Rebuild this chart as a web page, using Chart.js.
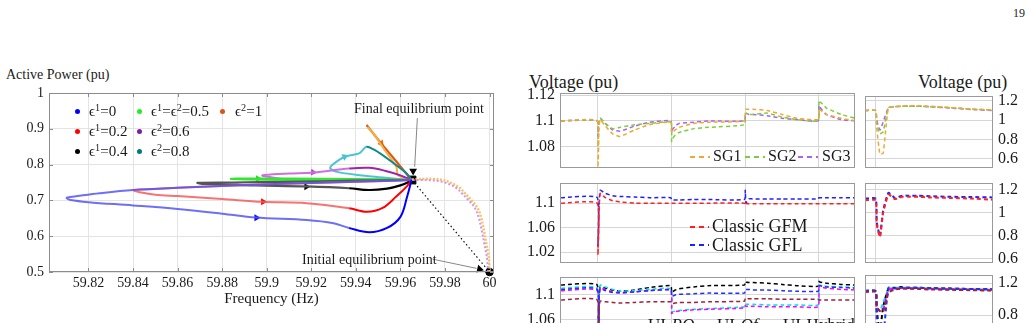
<!DOCTYPE html>
<html><head><meta charset="utf-8">
<script src="https://cdn.jsdelivr.net/npm/chart.js@4.4.1/dist/chart.umd.min.js"></script>
<style>
html,body{margin:0;padding:0;background:#fff;width:1034px;height:323px;overflow:hidden;position:relative;
 font-family:"Liberation Serif","Times New Roman","DejaVu Serif",serif;color:#1a1a1a;}
canvas{position:absolute;}
.t{position:absolute;white-space:nowrap;line-height:1;}
.t sup{font-size:0.68em;vertical-align:0.5em;line-height:0;}
.dot{position:absolute;width:5px;height:5px;border-radius:50%;}
.ds{position:absolute;height:1.6px;}
</style></head><body>

<div class="t" style="left:1013px;top:7px;font-size:12px;color:#222">19</div>
<div class="t" style="left:6px;top:68px;font-size:14px">Active Power (pu)</div>
<div class="t" style="left:529px;top:73px;font-size:18px">Voltage (pu)</div>
<div class="t" style="left:918px;top:73px;font-size:18px">Voltage (pu)</div>

<canvas id="pf" width="510" height="263" style="left:0;top:60px"></canvas>
<canvas id="r1a" width="340" height="120" style="left:520px;top:70px"></canvas>
<canvas id="r1b" width="174" height="117" style="left:860px;top:73px"></canvas>
<canvas id="r2a" width="340" height="125" style="left:520px;top:160px"></canvas>
<canvas id="r2b" width="174" height="125" style="left:860px;top:160px"></canvas>
<canvas id="r3a" width="340" height="125" style="left:520px;top:254px"></canvas>
<canvas id="r3b" width="174" height="127" style="left:860px;top:252px"></canvas>

<!-- left chart legend -->
<div class="dot" style="left:75px;top:109px;background:#0000ff"></div>
<div class="t" style="left:89px;top:104px;font-size:15px">ϵ<sup>1</sup>=0</div>
<div class="dot" style="left:75px;top:129px;background:#ff0000"></div>
<div class="t" style="left:89px;top:124px;font-size:15px">ϵ<sup>1</sup>=0.2</div>
<div class="dot" style="left:75px;top:149px;background:#000"></div>
<div class="t" style="left:89px;top:144px;font-size:15px">ϵ<sup>1</sup>=0.4</div>
<div class="dot" style="left:137px;top:109px;background:#22ee22"></div>
<div class="t" style="left:151px;top:104px;font-size:15px">ϵ<sup>1</sup>=ϵ<sup>2</sup>=0.5</div>
<div class="dot" style="left:137px;top:129px;background:#7e1e9c"></div>
<div class="t" style="left:151px;top:124px;font-size:15px">ϵ<sup>2</sup>=0.6</div>
<div class="dot" style="left:137px;top:149px;background:#007b7b"></div>
<div class="t" style="left:151px;top:144px;font-size:15px">ϵ<sup>2</sup>=0.8</div>
<div class="dot" style="left:220px;top:109px;background:#d9531a"></div>
<div class="t" style="left:235px;top:104px;font-size:15px">ϵ<sup>2</sup>=1</div>

<div class="t" style="left:354px;top:102px;font-size:14px">Final equilibrium point</div>
<div class="t" style="left:302px;top:253px;font-size:14px">Initial equilibrium point</div>

<!-- row legends -->
<div class="ds" style="left:690px;top:156px;width:20px;background:repeating-linear-gradient(90deg,#f0a830 0 5px,transparent 5px 9px)"></div>
<div class="t" style="left:713px;top:148px;font-size:16px">SG1</div>
<div class="ds" style="left:745px;top:156px;width:20px;background:repeating-linear-gradient(90deg,#7ad03a 0 5px,transparent 5px 9px)"></div>
<div class="t" style="left:768px;top:148px;font-size:16px">SG2</div>
<div class="ds" style="left:798px;top:156px;width:20px;background:repeating-linear-gradient(90deg,#b060f0 0 5px,transparent 5px 9px)"></div>
<div class="t" style="left:822px;top:148px;font-size:16px">SG3</div>

<div class="ds" style="left:690px;top:226px;width:19px;background:repeating-linear-gradient(90deg,#ff2020 0 5px,transparent 5px 9px)"></div>
<div class="t" style="left:712px;top:217px;font-size:18px">Classic GFM</div>
<div class="ds" style="left:690px;top:244px;width:19px;background:repeating-linear-gradient(90deg,#2020ff 0 5px,transparent 5px 9px)"></div>
<div class="t" style="left:712px;top:236px;font-size:18px">Classic GFL</div>

<div class="ds" style="left:627px;top:325px;width:17px;background:repeating-linear-gradient(90deg,#00e0ee 0 5px,transparent 5px 9px)"></div>
<div class="t" style="left:648px;top:316px;font-size:17px">UI-<i>PQ</i></div>
<div class="ds" style="left:697px;top:325px;width:16px;background:repeating-linear-gradient(90deg,#000 0 5px,transparent 5px 9px)"></div>
<div class="t" style="left:717px;top:316px;font-size:17px">UI-<i>Qf</i></div>
<div class="ds" style="left:764px;top:325px;width:16px;background:repeating-linear-gradient(90deg,#a0203a 0 5px,transparent 5px 9px)"></div>
<div class="t" style="left:783px;top:316px;font-size:17px">UI-Hybrid</div>

<script>
// ================= DATA =================
// Left: P-f phase portrait
const freqTicks  = [59.82, 59.84, 59.86, 59.88, 59.9, 59.92, 59.94, 59.96, 59.98, 60];
const powerTicks = [0.5, 0.6, 0.7, 0.8, 0.9, 1];

// initial rise from initial equilibrium (overlapping trajectories)
const riseF  = [60, 59.9998, 59.9993, 59.9985, 59.9975, 59.9963, 59.9945, 59.9918, 59.989, 59.9866, 59.983, 59.979, 59.975, 59.97, 59.965];
const riseP  = [0.5, 0.53, 0.555, 0.581, 0.615, 0.651, 0.68, 0.701, 0.72, 0.735, 0.748, 0.757, 0.76, 0.76, 0.758];
const rise2F = [59.9993, 59.999, 59.9984, 59.9976, 59.9965, 59.9952, 59.9933, 59.9905, 59.9876, 59.985, 59.9813, 59.9772, 59.9732, 59.969, 59.965];
const rise2P = [0.5, 0.53, 0.555, 0.581, 0.615, 0.651, 0.68, 0.701, 0.72, 0.735, 0.747, 0.754, 0.756, 0.757, 0.757];

// eps1 = 0
const e10F = [59.965, 59.94, 59.90, 59.86, 59.84, 59.825, 59.815, 59.8105, 59.8102, 59.812, 59.82, 59.84, 59.86, 59.88, 59.895, 59.918, 59.93, 59.937, 59.946, 59.954, 59.96, 59.963, 59.965];
const e10P = [0.757, 0.752, 0.745, 0.735, 0.729, 0.72, 0.712, 0.708, 0.706, 0.701, 0.695, 0.686, 0.676, 0.663, 0.652, 0.645, 0.636, 0.623, 0.611, 0.623, 0.654, 0.71, 0.757];
// eps1 = 0.2
const e12F = [59.965, 59.94, 59.90, 59.87, 59.85, 59.842, 59.8402, 59.843, 59.85, 59.86, 59.88, 59.898, 59.918, 59.937, 59.945, 59.952, 59.958, 59.963, 59.965];
const e12P = [0.757, 0.752, 0.745, 0.738, 0.732, 0.73, 0.728, 0.723, 0.716, 0.712, 0.704, 0.696, 0.692, 0.678, 0.668, 0.679, 0.71, 0.74, 0.757];
// eps1 = 0.4
const e14F = [59.965, 59.94, 59.91, 59.885, 59.869, 59.872, 59.895, 59.918, 59.937, 59.946, 59.954, 59.96, 59.964, 59.965];
const e14P = [0.757, 0.755, 0.752, 0.75, 0.749, 0.746, 0.742, 0.739, 0.734, 0.729, 0.733, 0.742, 0.752, 0.757];
// eps1 = eps2 = 0.5
const e55F = [59.965, 59.93, 59.9, 59.884, 59.886, 59.91, 59.94, 59.965];
const e55P = [0.757, 0.757, 0.758, 0.76, 0.761, 0.761, 0.76, 0.758];
// eps2 = 0.6
const e26F = [59.965, 59.94, 59.91, 59.898, 59.899, 59.91, 59.921, 59.937, 59.946, 59.953, 59.96, 59.965];
const e26P = [0.757, 0.757, 0.758, 0.769, 0.771, 0.775, 0.778, 0.789, 0.791, 0.783, 0.77, 0.757];
// eps2 = 0.8
const e28F = [59.965, 59.945, 59.932, 59.9285, 59.929, 59.935, 59.9417, 59.9447, 59.9484, 59.955, 59.9627, 59.965];
const e28P = [0.757, 0.768, 0.779, 0.789, 0.797, 0.822, 0.832, 0.85, 0.841, 0.813, 0.776, 0.757];
// eps2 = 1 (outward and return)
const e21F  = [59.965, 59.958, 59.951, 59.9448];
const e21P  = [0.757, 0.81, 0.862, 0.9106];
const e21bF = [59.9452, 59.9465, 59.9484, 59.953, 59.9582, 59.9588, 59.962, 59.965];
const e21bP = [0.905, 0.897, 0.883, 0.84, 0.794, 0.771, 0.762, 0.757];

// equilibria: final, initial
const eqF = [59.9652, 60];
const eqP = [0.757, 0.5];
// annotation leader lines
const leadFinalF = [59.9676, 59.9664];
const leadFinalP = [0.930, 0.794];
const leadInitF  = [59.9744, 59.9942];
const leadInitP  = [0.536, 0.510];
const leadHeadF  = [59.9657, 59.9955];
const leadHeadP  = [0.782, 0.508];
const leadHeadDir = [180, 103];
// direction arrows on trajectories
const arrowF   = [59.8954, 59.8984, 59.9178, 59.8961, 59.9208, 59.935, 59.9514];
const arrowP   = [0.6517, 0.6964, 0.7383, 0.7605, 0.7785, 0.822, 0.8595];
const arrowDir = [90, 90, 90, 90, 95, 66, 141];

// Right: voltage time series (time in s)
const T = [0, 4.9, 5.0, 5.1, 5.3, 6, 7, 8, 10, 12, 14.9, 15.0, 15.1, 15.5, 16, 18, 20, 24.9, 25.0, 25.1, 25.5, 26, 28, 30, 32, 34.9, 35.0, 35.1, 35.5, 36, 38, 40];
const eventT = [5, 15, 25, 35];
const SG1 = [1.1, 1.1, 1.064, 1.09, 1.101, 1.096, 1.090, 1.088, 1.093, 1.097, 1.099, 1.091, 1.091, 1.093, 1.095, 1.098, 1.099, 1.1, 1.108, 1.109, 1.109, 1.109, 1.108, 1.105, 1.102, 1.101, 1.108, 1.109, 1.107, 1.105, 1.102, 1.1];
const SG2 = [1.1, 1.1, 1.08, 1.095, 1.102, 1.098, 1.094, 1.095, 1.097, 1.098, 1.099, 1.084, 1.086, 1.089, 1.091, 1.094, 1.095, 1.097, 1.104, 1.106, 1.105, 1.105, 1.106, 1.103, 1.101, 1.1, 1.116, 1.115, 1.113, 1.110, 1.105, 1.102];
const SG3 = [1.1, 1.1, 1.088, 1.098, 1.102, 1.098, 1.093, 1.092, 1.096, 1.099, 1.1, 1.091, 1.093, 1.096, 1.098, 1.099, 1.1, 1.1, 1.106, 1.106, 1.105, 1.105, 1.104, 1.102, 1.101, 1.1, 1.112, 1.111, 1.108, 1.105, 1.101, 1.1];
const GFM = [1.1, 1.1, 1.015, 1.06, 1.116, 1.109, 1.104, 1.102, 1.1, 1.1, 1.1, 1.1, 1.1, 1.1, 1.1, 1.1, 1.1, 1.1, 1.096, 1.099, 1.099, 1.099, 1.099, 1.099, 1.099, 1.099, 1.099, 1.099, 1.099, 1.099, 1.099, 1.099];
const GFL = [1.109, 1.109, 1.03, 1.08, 1.121, 1.116, 1.112, 1.111, 1.11, 1.109, 1.109, 1.105, 1.105, 1.105, 1.105, 1.106, 1.106, 1.106, 1.121, 1.1, 1.107, 1.107, 1.107, 1.107, 1.107, 1.107, 1.109, 1.109, 1.109, 1.109, 1.109, 1.109];
const UI_PQ  = [1.111, 1.111, 1.0, 1.09, 1.116, 1.113, 1.109, 1.106, 1.107, 1.109, 1.110, 1.072, 1.073, 1.074, 1.075, 1.077, 1.078, 1.081, 1.086, 1.085, 1.085, 1.085, 1.084, 1.084, 1.084, 1.084, 1.114, 1.116, 1.115, 1.114, 1.113, 1.112];
const UI_Qf  = [1.116, 1.116, 1.0, 1.09, 1.113, 1.111, 1.108, 1.106, 1.108, 1.112, 1.115, 1.104, 1.105, 1.108, 1.110, 1.113, 1.115, 1.116, 1.122, 1.121, 1.12, 1.12, 1.119, 1.117, 1.115, 1.114, 1.122, 1.121, 1.12, 1.119, 1.117, 1.116];
const UI_Hyb = [1.092, 1.092, 1.0, 1.07, 1.09, 1.089, 1.088, 1.087, 1.088, 1.089, 1.089, 1.086, 1.086, 1.087, 1.088, 1.088, 1.089, 1.09, 1.095, 1.095, 1.094, 1.094, 1.094, 1.093, 1.093, 1.093, 1.092, 1.092, 1.092, 1.092, 1.092, 1.092];
const UI_S4  = [1.109, 1.109, 1.0, 1.08, 1.11, 1.107, 1.104, 1.104, 1.105, 1.107, 1.108, 1.097, 1.098, 1.100, 1.101, 1.102, 1.103, 1.103, 1.109, 1.109, 1.109, 1.108, 1.108, 1.107, 1.106, 1.106, 1.115, 1.115, 1.114, 1.113, 1.112, 1.111];
const UI_S5  = [1.107, 1.107, 1.0, 1.085, 1.112, 1.109, 1.105, 1.103, 1.105, 1.107, 1.108, 1.07, 1.071, 1.073, 1.074, 1.076, 1.077, 1.079, 1.083, 1.082, 1.082, 1.082, 1.081, 1.081, 1.081, 1.081, 1.111, 1.113, 1.112, 1.111, 1.109, 1.108];

// zoomed windows around first event
const T2 = [0, 1.0, 1.1, 1.4, 1.7, 2.2, 2.8, 3.5, 4, 5, 6, 8, 10, 12];
const zoomT = [1];
const zSG1 = [1.1, 1.1, 0.92, 0.65, 0.66, 1.13, 1.14, 1.145, 1.15, 1.15, 1.145, 1.13, 1.115, 1.105];
const zSG2 = [1.1, 1.1, 0.95, 0.86, 0.88, 1.13, 1.14, 1.145, 1.145, 1.145, 1.14, 1.13, 1.115, 1.105];
const zSG3 = [1.1, 1.1, 1.0, 0.90, 0.98, 1.13, 1.14, 1.145, 1.145, 1.145, 1.14, 1.125, 1.11, 1.10];
const zGFM = [1.11, 1.11, 0.9, 0.79, 1.0, 1.16, 1.12, 1.14, 1.14, 1.14, 1.135, 1.13, 1.125, 1.115];
const zGFL = [1.125, 1.125, 0.92, 0.80, 1.02, 1.175, 1.13, 1.15, 1.15, 1.15, 1.145, 1.14, 1.138, 1.135];
const zPQ  = [1.1, 1.1, 0.9, 0.85, 0.95, 1.12, 1.14, 1.14, 1.14, 1.135, 1.13, 1.125, 1.12, 1.115];
const zQf  = [1.1, 1.1, 0.85, 0.6, 0.9, 1.13, 1.14, 1.15, 1.14, 1.14, 1.135, 1.13, 1.125, 1.12];
const zHyb = [1.09, 1.09, 0.9, 0.85, 0.84, 1.08, 1.12, 1.13, 1.13, 1.125, 1.12, 1.115, 1.11, 1.105];
const zS4  = [1.1, 1.1, 0.7, 0.3, 0.5, 1.14, 1.13, 1.14, 1.14, 1.14, 1.135, 1.13, 1.125, 1.12];
const zS5  = [1.09, 1.09, 0.9, 0.85, 0.86, 1.11, 1.13, 1.13, 1.13, 1.13, 1.125, 1.12, 1.115, 1.11];

const ticksR1 = [1.08, 1.1, 1.12];
const ticksR2 = [1.02, 1.06, 1.1];
const ticksR3 = [1.02, 1.06, 1.1];
const ticksZ  = [0.6, 0.8, 1, 1.2];
const ticksZ3 = [0.4, 0.6, 0.8, 1, 1.2];

// ================= RENDER =================
const SERIF = '"Liberation Serif", "Times New Roman", serif';
Chart.defaults.font.family = SERIF;
Chart.defaults.color = '#1a1a1a';
Chart.defaults.elements.point.radius = 0;

const pts = (xs, ys) => xs.map((x, i) => ({x, y: ys[i]}));
const setTicks = arr => s => { s.ticks = arr.map(v => ({value: v})); };
const fmt = v => String(+(+v).toFixed(3));

Chart.register({
  id: 'box',
  afterDraw(chart, args, opts) {
    const {ctx, chartArea: a} = chart;
    ctx.save();
    ctx.strokeStyle = opts.color || '#999';
    ctx.lineWidth = 1;
    if (opts.ticks) {
      const xs = chart.scales.x, ys = chart.scales.y;
      ctx.beginPath();
      xs.ticks.forEach(t => { const p = Math.round(xs.getPixelForValue(t.value)) + 0.5;
        ctx.moveTo(p, a.bottom); ctx.lineTo(p, a.bottom - 4); ctx.moveTo(p, a.top); ctx.lineTo(p, a.top + 4); });
      ys.ticks.forEach(t => { const p = Math.round(ys.getPixelForValue(t.value)) + 0.5;
        ctx.moveTo(a.left, p); ctx.lineTo(a.left + 4, p); ctx.moveTo(a.right, p); ctx.lineTo(a.right - 4, p); });
      ctx.stroke();
    }
    ctx.strokeRect(Math.round(a.left) + 0.5, Math.round(a.top) + 0.5, Math.round(a.width) - 1, Math.round(a.height) - 1);
    ctx.restore();
  }
});

const L = (xs, ys, color, w, extra) => Object.assign({data: pts(xs, ys), showLine: true, borderColor: color, borderWidth: w, pointRadius: 0}, extra || {});
const seg = (idx, a, b) => ({borderColor: c => c.p0DataIndex >= idx ? b : a});
const SM = 0.35;

new Chart(document.getElementById('pf'), {
  type: 'scatter',
  data: {datasets: [
    L(rise2F, rise2P, 'rgba(205,140,225,0.9)', 2, {borderDash: [2, 2], tension: SM}),
    L(riseF, riseP, '#f6c26a', 2.5, {borderDash: [2, 1.5], tension: SM}),
    L(e10F, e10P, '#0000ff', 2, {tension: SM, segment: seg(17, 'rgba(85,85,245,0.85)', '#0000ff')}),
    L(e12F, e12P, '#ff0000', 2, {tension: SM, segment: seg(13, 'rgba(245,90,90,0.85)', '#ff0000')}),
    L(e14F, e14P, '#000', 2.2, {tension: SM, segment: seg(8, '#555', '#000')}),
    L(e55F, e55P, '#33e633', 2, {tension: SM}),
    L(e26F, e26P, '#a020b0', 2, {tension: SM, segment: seg(7, '#d06ee0', '#a020b0')}),
    L(e28F, e28P, '#0a8a8a', 2, {tension: 0.25, segment: seg(7, '#4ac6d2', '#0a8a8a')}),
    L(e21bF, e21bP, '#f4b040', 2, {tension: 0.2}),
    L(e21F, e21P, '#d85a1a', 2.2),
    L(eqF, eqP, '#111', 1.2, {borderDash: [1.5, 2.5]}),
    L(leadFinalF, leadFinalP, '#888', 1),
    L(leadInitF, leadInitP, '#888', 1),
    {data: pts(arrowF, arrowP), pointStyle: 'triangle', pointRadius: 4,
     pointRotation: arrowDir, pointBorderWidth: 0,
     pointBackgroundColor: ['#0000ff', '#ff0000', '#000', '#22dd22', '#c040d0', '#40c0d0', '#e07010']},
    {data: pts(leadHeadF, leadHeadP), pointStyle: 'triangle', pointRadius: 4.5, pointRotation: leadHeadDir,
     pointBackgroundColor: '#000', pointBorderWidth: 0, clip: false},
    {data: pts(eqF, eqP), pointStyle: ['rect', 'circle'], pointRadius: [5.5, 3.8],
     pointBackgroundColor: '#000', pointBorderColor: '#000', pointBorderWidth: 1, clip: false}
  ]},
  options: {
    responsive: false, animation: false, devicePixelRatio: 1,
    layout: {padding: {left: 0, right: 16, top: 33, bottom: 0}},
    plugins: {legend: {display: false}, tooltip: {enabled: false}, box: {color: '#8c8c8c', ticks: true}},
    scales: {
      x: {type: 'linear', min: 59.8023, max: 60.002, afterBuildTicks: setTicks(freqTicks),
          ticks: {font: {size: 14}, padding: 3, maxRotation: 0, autoSkip: false, callback: v => String(+(+v).toFixed(2))},
          grid: {color: '#e4e4e4', drawTicks: false}, border: {display: false},
          title: {display: true, text: 'Frequency (Hz)', font: {size: 15}, padding: {top: 0, bottom: 15}},
          afterFit: s => { s.height = 51; }},
      y: {type: 'linear', min: 0.5, max: 1, afterBuildTicks: setTicks(powerTicks),
          ticks: {font: {size: 14}, padding: 5, callback: fmt},
          grid: {color: '#e4e4e4', drawTicks: false}, border: {display: false},
          afterFit: s => { s.width = 49; }}
    }
  }
});

const D = (ys, xs, color, w) => ({data: pts(xs, ys), showLine: true, borderColor: color, borderWidth: w || 1.5, borderDash: [4, 3], pointRadius: 0, tension: 0.15});

function panel(id, c) {
  return new Chart(document.getElementById(id), {
    type: 'scatter',
    data: {datasets: c.datasets},
    options: {
      responsive: false, animation: false, devicePixelRatio: 1,
      layout: {padding: c.pad},
      plugins: {legend: {display: false}, tooltip: {enabled: false}, box: {color: '#9a9a9a'}},
      scales: {
        x: {type: 'linear', min: c.xMin, max: c.xMax, afterBuildTicks: setTicks(c.xTicks),
            ticks: {display: false}, grid: {color: '#d6d6d6', drawTicks: false}, border: {display: false},
            afterFit: s => { s.height = 0; }},
        y: {type: 'linear', position: c.yPos, min: c.yMin, max: c.yMax, afterBuildTicks: setTicks(c.yTicks),
            ticks: {font: {size: 16}, padding: 5, callback: fmt},
            grid: {color: '#d6d6d6', drawTicks: false}, border: {display: false},
            afterFit: s => { s.width = c.yW; }}
      }
    }
  });
}

const leftCfg = {xMin: -0.15, xMax: 39.9, xTicks: eventT, yPos: 'left', yW: 40};
const rightCfg = {xMin: 0, xMax: 12, xTicks: zoomT, yPos: 'right', yW: 41};

panel('r1a', Object.assign({}, leftCfg, {pad: {left: 0, right: 5, top: 23, bottom: 22},
  yMin: 1.0635, yMax: 1.1216, yTicks: ticksR1,
  datasets: [D(SG1, T, '#f0a830'), D(SG2, T, '#7ad03a'), D(SG3, T, '#b060f0')]}));
panel('r1b', Object.assign({}, rightCfg, {pad: {left: 5, right: 0, top: 23, bottom: 22},
  yMin: 0.507, yMax: 1.25, yTicks: ticksZ,
  datasets: [D(zSG1, T2, '#f0a830'), D(zSG2, T2, '#7ad03a'), D(zSG3, T2, '#b060f0')]}));
panel('r2a', Object.assign({}, leftCfg, {pad: {left: 0, right: 5, top: 23, bottom: 22},
  yMin: 1.002, yMax: 1.133, yTicks: ticksR2,
  datasets: [D(GFM, T, '#ff2020'), D(GFL, T, '#2020ff')]}));
panel('r2b', Object.assign({}, rightCfg, {pad: {left: 5, right: 0, top: 23, bottom: 22},
  yMin: 0.565, yMax: 1.26, yTicks: ticksZ,
  datasets: [D(zGFM, T2, '#ff2020', 2), D(zGFL, T2, '#2020ff', 2)]}));
panel('r3a', Object.assign({}, leftCfg, {pad: {left: 0, right: 5, top: 23, bottom: 22},
  yMin: 1.0, yMax: 1.129, yTicks: ticksR3,
  datasets: [D(UI_Hyb, T, '#a0203a'), D(UI_S4, T, '#2030ff'), D(UI_S5, T, '#ff00ff'), D(UI_PQ, T, '#00e0ee'), D(UI_Qf, T, '#000')]}));
panel('r3b', Object.assign({}, rightCfg, {pad: {left: 5, right: 0, top: 23, bottom: 22},
  yMin: 0.275, yMax: 1.3, yTicks: ticksZ3,
  datasets: [D(zHyb, T2, '#a0203a', 2), D(zS4, T2, '#2030ff', 2), D(zS5, T2, '#ff00ff', 2), D(zPQ, T2, '#00e0ee', 2), D(zQf, T2, '#000', 2)]}));
</script>
</body></html>
